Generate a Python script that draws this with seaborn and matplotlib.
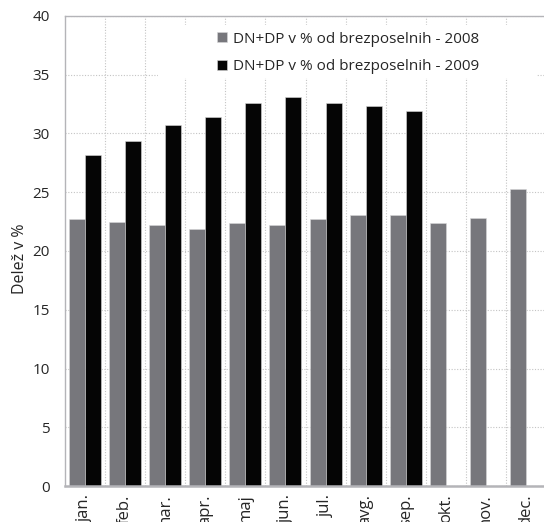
import matplotlib
matplotlib.use("Agg")
import matplotlib.pyplot as plt
import seaborn as sns
import pandas as pd
import numpy as np
from matplotlib.patches import Rectangle

months = ["jan.", "feb.", "mar.", "apr.", "maj", "jun.", "jul.", "avg.", "sep.", "okt.", "nov.", "dec."]
vals_2008 = [22.7, 22.5, 22.2, 21.9, 22.4, 22.2, 22.7, 23.1, 23.1, 22.4, 22.8, 25.3]
vals_2009 = [28.2, 29.4, 30.7, 31.4, 32.6, 33.1, 32.6, 32.3, 31.9, np.nan, np.nan, np.nan]
series = ["DN+DP v % od brezposelnih - 2008", "DN+DP v % od brezposelnih - 2009"]
yticks = [0, 5, 10, 15, 20, 25, 30, 35, 40]

df = pd.DataFrame({
    "month": months * 2,
    "value": vals_2008 + vals_2009,
    "series": [series[0]] * 12 + [series[1]] * 12,
})

sns.set_style("white")
plt.rcParams["font.family"] = ["Open Sans", "DejaVu Sans"]

fig = plt.figure(figsize=(5.44, 5.22), dpi=100)
ax = fig.add_axes([65 / 544, 1 - 486 / 522, 1 - 65 / 544 + 2 / 544, 470 / 522])

palette = {series[0]: "#77777c", series[1]: "#050505"}
sns.barplot(data=df, x="month", y="value", hue="series", palette=palette,
            width=0.8, saturation=1, ax=ax, edgecolor="#d8d8d8", linewidth=0.4,
            order=months, hue_order=series)

ax.set_ylim(0, 40)
ax.set_xlim(-0.5, 11.5)
ax.set_yticks(yticks)
ax.set_yticklabels([str(t) for t in yticks], fontsize=11)
ax.set_xticks(range(12))
ax.set_xticklabels(months, rotation=90, fontsize=12, va="top")
ax.set_xticks(np.arange(0.5, 11.5, 1), minor=True)
ax.tick_params(axis="both", which="both", length=0)
ax.tick_params(axis="y", pad=11)
ax.tick_params(axis="x", pad=6)
ax.set_xlabel("")
ax.set_ylabel("Delež v %", fontsize=11.5)
ax.yaxis.set_label_coords(-0.077, 0.483)

ax.set_axisbelow(True)
ax.yaxis.grid(True, which="major", linestyle=(0, (1, 1.5)), color="#c4c4c4", linewidth=0.8)
ax.xaxis.grid(True, which="minor", linestyle=(0, (1, 1.5)), color="#c4c4c4", linewidth=0.8)
ax.xaxis.grid(False, which="major")

for side in ["left", "top", "bottom"]:
    ax.spines[side].set_color("#b4b4b8")
    ax.spines[side].set_linewidth(1.0)
ax.spines["bottom"].set_linewidth(1.8)
ax.spines["right"].set_visible(False)

# white area behind the legend
ax.add_patch(Rectangle((0.194, 0.868), 0.787, 0.113, transform=ax.transAxes,
                       facecolor="white", edgecolor="none", zorder=0.8))

h, l = ax.get_legend_handles_labels()
ax.legend(h, l, loc="upper left", bbox_to_anchor=(0.317, 0.967), frameon=False,
          fontsize=11, handlelength=0.65, handleheight=0.65, handletextpad=0.35,
          labelspacing=0.82, borderpad=0, borderaxespad=0)

fig.savefig("out.png", dpi=100)
